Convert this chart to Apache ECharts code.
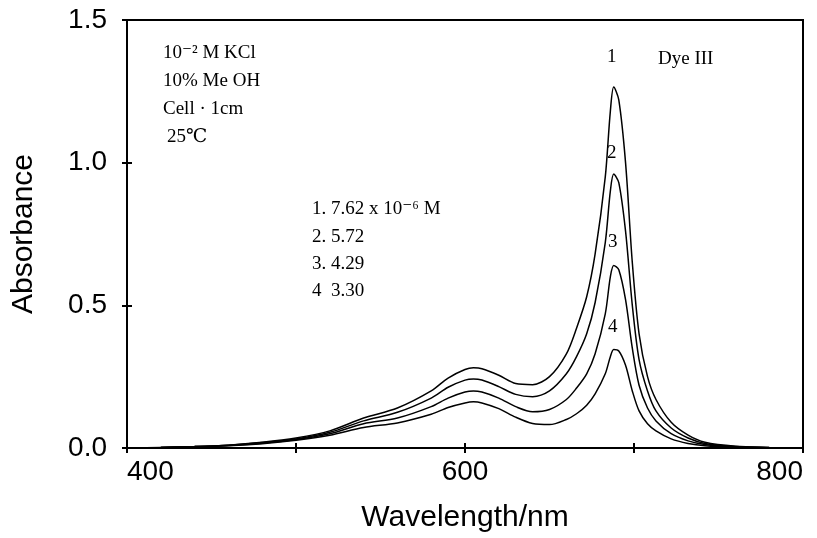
<!DOCTYPE html>
<html lang="en">
<head>
    <meta charset="UTF-8">
    <title>Dye III absorbance</title>
    <style>
        *{ margin: 0; padding: 0; }
        body,html{ width: 100%; height: 100%; background: #fff; }
        #main{ width: 817px; height: 538px; }
    </style>
</head>
<body>
<div id="main"></div>
<script src="https://cdn.jsdelivr.net/npm/echarts@6/dist/echarts.min.js"></script>
<script type="text/javascript">
    // wavelengths (nm) shared by all four curves
    var wavelength = [400,420,440,460,480,500,520,540,560,580,590,600,605,610,620,630,640,650,660,666,672,677,683,686,688,691,695,699,703,708,713,722,732,742,760,780,800];
    // absorbance, one array per concentration
    var curve1 = [0,0.002,0.005,0.01,0.02,0.035,0.06,0.105,0.14,0.2,0.245,0.275,0.281,0.278,0.255,0.226,0.222,0.25,0.33,0.42,0.53,0.68,0.95,1.18,1.265,1.22,1.0,0.65,0.4,0.25,0.17,0.09,0.045,0.02,0.006,0.002,0];
    var curve2 = [0,0.002,0.005,0.01,0.019,0.032,0.055,0.095,0.125,0.175,0.213,0.238,0.242,0.238,0.215,0.188,0.18,0.2,0.26,0.32,0.4,0.51,0.72,0.9,0.96,0.93,0.76,0.5,0.31,0.2,0.13,0.07,0.035,0.016,0.005,0.002,0];
    var curve3 = [0,0.002,0.005,0.009,0.017,0.03,0.05,0.085,0.105,0.145,0.175,0.196,0.2,0.196,0.175,0.145,0.127,0.135,0.17,0.21,0.26,0.33,0.47,0.6,0.64,0.625,0.52,0.35,0.22,0.14,0.095,0.05,0.025,0.012,0.004,0.001,0];
    var curve4 = [0,0.002,0.004,0.008,0.015,0.027,0.045,0.072,0.088,0.118,0.142,0.158,0.162,0.158,0.138,0.108,0.086,0.082,0.1,0.12,0.15,0.19,0.26,0.32,0.345,0.34,0.29,0.2,0.13,0.085,0.06,0.032,0.016,0.008,0.003,0.001,0];
    var curveNames = ['1', '2', '3', '4'];
    var xLabels = [400, 600, 800];

    var myChart = echarts.init(document.getElementById('main'));

    function pairs(ys) {
        return wavelength.map(function (w, i) { return [w, ys[i]]; });
    }

    var serif = '"Liberation Serif", "DejaVu Serif", serif';
    var sans = '"Liberation Sans", Arial, sans-serif';

    var series = [curve1, curve2, curve3, curve4].map(function (ys, i) {
        return {
            name: curveNames[i],
            type: 'line',
            smooth: 0.3,
            showSymbol: false,
            data: pairs(ys),
            lineStyle: { color: '#000', width: 1.5 }
        };
    });

    function txt(left, top, s, size) {
        return {
            type: 'text', left: left, top: top,
            style: { text: s, font: (size || 19) + 'px ' + serif, fill: '#000' }
        };
    }

    var tickStyle = { color: '#000', width: 2 };

    var option = {
        animation: false,
        grid: {
            left: 127, right: 14, top: 20, bottom: 89,
            show: true, borderColor: '#000', borderWidth: 2
        },
        xAxis: [{
            type: 'value',
            min: 400, max: 800, interval: 100,
            name: 'Wavelength/nm',
            nameLocation: 'middle',
            nameGap: 55,
            nameTextStyle: { fontFamily: sans, fontSize: 30, color: '#000' },
            axisLine: { lineStyle: { color: '#000', width: 2 } },
            axisTick: { length: 5, lineStyle: tickStyle },
            axisLabel: {
                fontFamily: sans, fontSize: 28, color: '#000', margin: 10,
                alignMinLabel: 'left', alignMaxLabel: 'right',
                formatter: function (v) { return xLabels.indexOf(v) >= 0 ? String(v) : ''; }
            },
            splitLine: { show: false }
        }, {
            // inner half of the crossing ticks
            type: 'value', position: 'bottom',
            min: 400, max: 800, interval: 100,
            axisLine: { show: false },
            axisTick: { inside: true, length: 5, lineStyle: tickStyle },
            axisLabel: { show: false },
            splitLine: { show: false }
        }],
        yAxis: [{
            type: 'value',
            min: 0, max: 1.5, interval: 0.5,
            name: 'Absorbance',
            nameLocation: 'middle',
            nameGap: 88,
            nameTextStyle: { fontFamily: sans, fontSize: 30, color: '#000' },
            axisLine: { show: true, lineStyle: { color: '#000', width: 2 } },
            axisTick: { show: true, length: 5, lineStyle: tickStyle },
            axisLabel: {
                fontFamily: sans, fontSize: 28, color: '#000', margin: 20,
                formatter: function (v) { return v.toFixed(1); }
            },
            splitLine: { show: false }
        }, {
            type: 'value', position: 'left',
            min: 0, max: 1.5, interval: 0.5,
            axisLine: { show: false },
            axisTick: { show: true, inside: true, length: 5, lineStyle: tickStyle },
            axisLabel: { show: false },
            splitLine: { show: false }
        }],
        graphic: [
            txt(163, 44, '10\u207B\u00B2 M KCl'),
            txt(163, 72, '10% Me OH'),
            txt(163, 100, 'Cell \u00B7 1cm'),
            txt(167, 128, '25\u2103'),
            txt(312, 200, '1. 7.62 x 10\u207B\u2076 M'),
            txt(312, 228, '2. 5.72'),
            txt(312, 255, '3. 4.29'),
            txt(312, 282, '4  3.30'),
            txt(658, 50, 'Dye III'),
            txt(607, 48, '1'),
            txt(607, 144, '2'),
            txt(608, 233, '3'),
            txt(608, 318, '4')
        ],
        series: series
    };
    myChart.setOption(option);
</script>
</body>
</html>
